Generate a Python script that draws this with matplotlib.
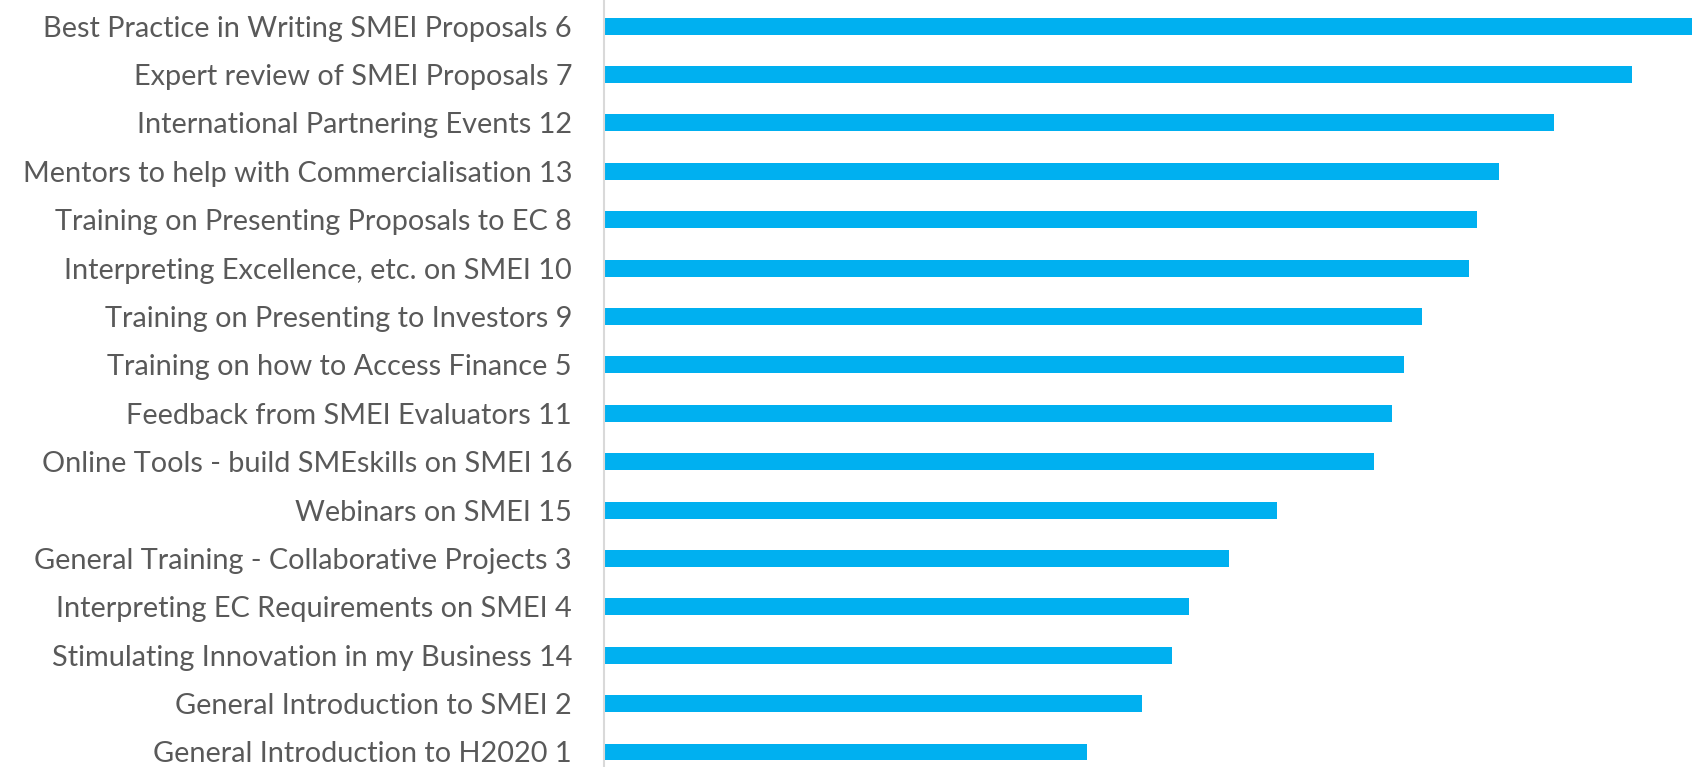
import matplotlib.pyplot as plt

# categories listed bottom -> top
labels = [
    "General Introduction to H2020 1",
    "General Introduction to SMEI 2",
    "Stimulating Innovation in my Business 14",
    "Interpreting EC Requirements on SMEI 4",
    "General Training - Collaborative Projects 3",
    "Webinars on SMEI 15",
    "Online Tools - build SMEskills on SMEI 16",
    "Feedback from SMEI Evaluators 11",
    "Training on how to Access Finance 5",
    "Training on Presenting to Investors 9",
    "Interpreting Excellence, etc. on SMEI 10",
    "Training on Presenting Proposals to EC 8",
    "Mentors to help with Commercialisation 13",
    "International Partnering Events 12",
    "Expert review of SMEI Proposals 7",
    "Best Practice in Writing SMEI Proposals 6",
]
scores = [1.93, 2.15, 2.27, 2.34, 2.50, 2.69, 3.08, 3.15,
          3.20, 3.27, 3.46, 3.49, 3.58, 3.80, 4.11, 4.35]

BAR = "#00b0f0"
TEXT = "#595959"

fig = plt.figure(figsize=(16.92, 7.67), dpi=100)
ax = fig.add_axes([604 / 1692, 0, 1 - 604 / 1692, 1])

y = range(len(labels))
ax.barh(y, scores, height=0.35, color=BAR)

ax.set_xlim(0, max(scores))
ax.set_ylim(-0.31, 15.54)
ax.set_yticks(list(y))
ax.set_yticklabels(labels, fontsize=20.8, color=TEXT, family="Lato")
ax.tick_params(axis="y", length=0, pad=23)
ax.set_xticks([])

for s in ["top", "right", "bottom"]:
    ax.spines[s].set_visible(False)
ax.spines["left"].set_color("#d9d9d9")
ax.spines["left"].set_linewidth(1.5)

fig.savefig("out.png", dpi=100, facecolor="white")
